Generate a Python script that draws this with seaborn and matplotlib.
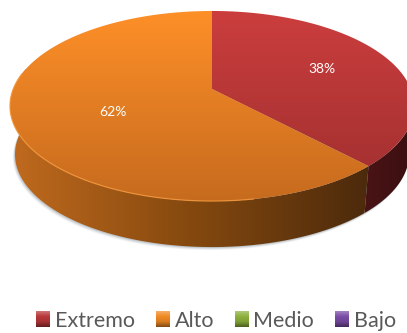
import numpy as np
import seaborn as sns
import matplotlib
matplotlib.use("Agg")
import matplotlib.pyplot as plt
from matplotlib.colors import LinearSegmentedColormap, to_rgb
from matplotlib.patches import Patch, Polygon

categories = ["Extremo", "Alto", "Medio", "Bajo"]
values = [38, 62, 0, 0]
labels = ["38%", "62%", "", ""]
swatches = ["#B8373A", "#F08A24", "#8DB03C", "#7A4CA6"]
top_shades = [("#CC3E3E", "#9E2E2E"), ("#FF9028", "#C56A1E"), None, None]
wall_shades = [("#4A1416", "#3A0E10"), ("#C06A1E", "#85490F", "#4C2A0C"), None, None]

sns.set_theme(style="white")
plt.rcParams["font.family"] = ["Lato", "DejaVu Sans"]

fig = plt.figure(figsize=(4.07, 3.33), dpi=100)
ax = fig.add_axes([0, 0, 1, 1])
ax.set_xlim(0, 407)
ax.set_ylim(333, 0)
ax.axis("off")

# Perspective disc: a unit circle projected with its near side enlarged.
CX, CY = 212.0, 89.0
RX, RY, PERSP = 198.8, 92.0, 0.179
DEPTH, SHRINK = 48.8, 0.975


def project(theta, radius=1.0, floor=False):
    u, v = radius * np.sin(theta), radius * np.cos(theta)
    w = 1 + PERSP * v
    x, y = RX * u / w, -RY * v / w
    if floor:
        return CX + SHRINK * x, CY + DEPTH + SHRINK * y
    return CX + x, CY + y


def gradient(colors, extent, horizontal, clip, z):
    cmap = LinearSegmentedColormap.from_list("shade", [to_rgb(c) for c in colors])
    ramp = np.linspace(0, 1, 256)
    ramp = ramp[None, :] if horizontal else ramp[:, None]
    im = ax.imshow(ramp, cmap=cmap, extent=extent, origin="upper" if not horizontal else "lower",
                   aspect="auto", zorder=z, interpolation="bilinear")
    patch = Polygon(clip, closed=True, transform=ax.transData, facecolor="none", edgecolor="none")
    ax.add_patch(patch)
    im.set_clip_path(patch)
    ax.set_xlim(0, 407)
    ax.set_ylim(333, 0)


shares = np.array(values, dtype=float) / sum(values)
edges = np.concatenate([[0], np.cumsum(shares)]) * 2 * np.pi

# Soft shadow under the near rim of the disc.
rim = np.linspace(np.radians(100), np.radians(282), 200)
for grow, alpha in [(3.0, 0.10), (2.0, 0.16), (1.0, 0.25)]:
    fx, fy = project(rim, floor=True)
    ax.fill(np.r_[fx - grow * 0.7, CX], np.r_[fy + grow, CY], color="#6F7C88", alpha=alpha, lw=0, zorder=1)

# Side walls, clipped to the part of the rim facing the viewer.
for i, (a, b) in enumerate(zip(edges[:-1], edges[1:])):
    if values[i] == 0:
        continue
    lo, hi = max(a, np.radians(92)), min(b, np.radians(283))
    t = np.linspace(lo, hi, 200)
    tx, ty = project(t)
    fx, fy = project(t, floor=True)
    wall = np.c_[np.r_[tx, fx[::-1]], np.r_[ty, fy[::-1]]]
    gradient(wall_shades[i], (wall[:, 0].min(), wall[:, 0].max(), 333, 0), True, wall, 2 + i * 0.1)

# Top faces of the slices.
for i, (a, b) in enumerate(zip(edges[:-1], edges[1:])):
    if values[i] == 0:
        continue
    t = np.linspace(a, b, 300)
    tx, ty = project(t)
    face = np.c_[np.r_[CX, tx], np.r_[CY, ty]]
    gradient(top_shades[i], (0, 407, 205, 8), False, face, 4)

# Bright lip along the near edge of the orange slice.
t = np.linspace(np.radians(170), np.radians(280), 200)
ex, ey = project(t)
ax.plot(ex, ey, color="#F79A3C", lw=0.9, alpha=0.8, zorder=5, solid_capstyle="round")

# Percentage labels placed along each slice's middle angle.
label_radius = [0.62, 0.52, 0, 0]
label_drop = [0, 5, 0, 0]
for i, text in enumerate(labels):
    if text:
        mid = (edges[i] + edges[i + 1]) / 2
        lx, ly = project(mid, label_radius[i])
        ax.text(lx, ly + label_drop[i], text, color="white", fontsize=10, ha="center", va="center", zorder=6)

handles = [Patch(facecolor=c, edgecolor="none") for c in swatches]
legend = ax.legend(handles, categories, loc="center", bbox_to_anchor=(216 / 407, 1 - 321 / 333),
                   ncol=4, frameon=False, fontsize=15.5, labelcolor="#595959", handlelength=0.65,
                   handleheight=0.7, handletextpad=0.23, columnspacing=0.95, borderpad=0, borderaxespad=0)

# Bevelled shading over the legend swatches.
fig.canvas.draw()
to_data = ax.transData.inverted()
for handle, colour in zip(legend.legend_handles, swatches):
    box = handle.get_window_extent().transformed(to_data)
    base = np.array(to_rgb(colour))
    shades = [base * 0.7 + 0.3, base, base * 0.9, base * 0.55]
    cmap = LinearSegmentedColormap.from_list("bevel", [tuple(s) for s in shades])
    ax.imshow(np.linspace(0, 1, 32)[:, None], cmap=cmap, origin="upper", aspect="auto", zorder=7,
              extent=(box.x0, box.x1, box.y0, box.y1))
ax.set_xlim(0, 407)
ax.set_ylim(333, 0)

fig.savefig("out.png", dpi=100)
